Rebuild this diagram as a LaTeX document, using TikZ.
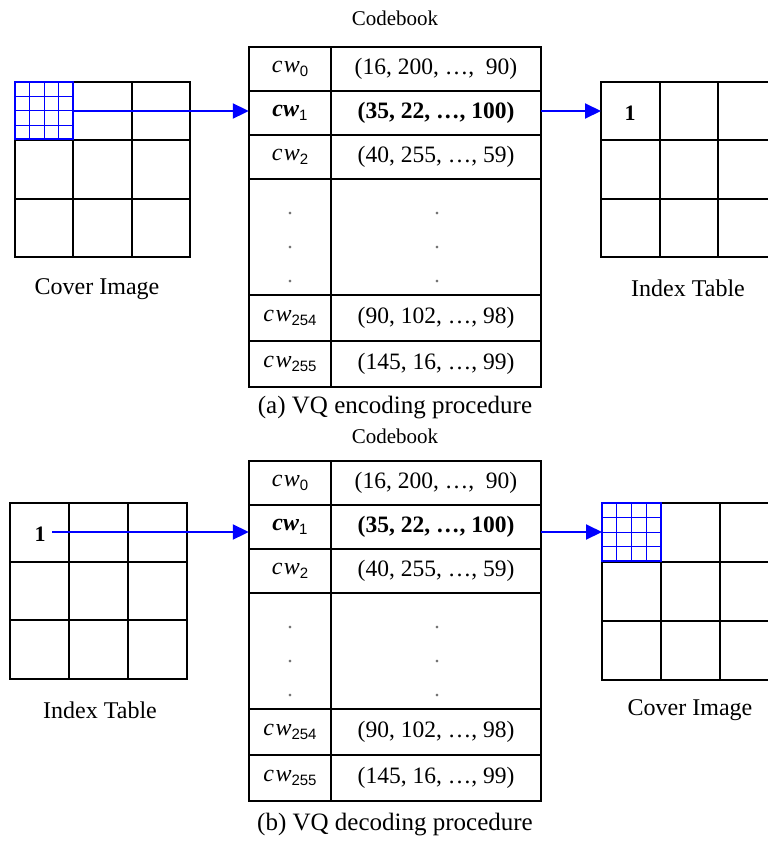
\documentclass[tikz,border=0pt]{standalone}
\usepackage{fontspec}
\setmainfont{Liberation Serif}
\newfontfamily\subfont{Liberation Sans}
\usetikzlibrary{arrows.meta}

\newcommand\cwlab[1]{\textit{c\kern1.5pt w}\raisebox{-4.5pt}{\subfont\fontsize{15}{15}\selectfont #1}}
\newcommand\cwbold[1]{\textbf{\textit{cw}}\raisebox{-4.5pt}{\subfont\fontsize{15}{15}\selectfont #1}}

\tikzset{
  gridline/.style={line width=2pt, black, line cap=rect},
  tblouter/.style={line width=1.4pt, black},
  tblrow/.style={line width=2.2pt, black},
  tblcol/.style={line width=2.8pt, black},
  bluefine/.style={blue, line width=0.9pt},
  blueout/.style={blue, line width=1.8pt},
  flow/.style={blue, line width=2pt, -{Triangle[length=16pt,width=15pt]}},
  lbl/.style={font=\fontsize{24}{28}\selectfont, inner sep=0pt},
  cblbl/.style={font=\fontsize{21}{24}\selectfont, inner sep=0pt},
  caplbl/.style={font=\fontsize{25}{28}\selectfont, inner sep=0pt},
  kcell/.style={minimum width=82pt, minimum height=44pt, inner sep=0pt, font=\fontsize{24}{28}\selectfont},
  vcell/.style={minimum width=210pt, minimum height=44pt, inner sep=0pt, font=\fontsize{23.5}{28}\selectfont},
  onebox/.style={font=\fontsize{22}{26}\selectfont\bfseries, inner sep=0pt},
  dotmark/.style={font=\fontsize{22}{26}\selectfont, inner sep=0pt, anchor=base, text=black!55},
}

% #1 name prefix, #2 vertical offset of table top
\newcommand\cbtable[2]{%
\begin{scope}[shift={(0,#2)}]
  \draw[tblrow] (249,44) -- (541,44);
  \draw[tblrow] (249,88) -- (541,88);
  \draw[tblrow] (249,132) -- (541,132);
  \draw[tblrow] (249,248) -- (541,248);
  \draw[tblrow] (249,294) -- (541,294);
  \draw[tblouter] (249,0) rectangle (541,340);
  \draw[tblcol] (331,0) -- (331,340);
  \node[kcell] (#1k0) at (290,22) {\cwlab{0}};
  \node[vcell] (#1v0) at (436,22) {(16, 200, …,\ \ 90)};
  \node[kcell] (#1k1) at (290,66) {\cwbold{1}};
  \node[vcell] (#1v1) at (436,66) {\textbf{(35, 22, …, 100)}};
  \node[kcell] (#1k2) at (290,110) {\cwlab{2}};
  \node[vcell] (#1v2) at (436,110) {(40, 255, …, 59)};
  \node[dotmark] (#1da) at (290,167) {.};
  \node[dotmark] (#1db) at (290,201) {.};
  \node[dotmark] (#1dc) at (290,235) {.};
  \node[dotmark] (#1ea) at (437,167) {.};
  \node[dotmark] (#1eb) at (437,201) {.};
  \node[dotmark] (#1ec) at (437,235) {.};
  \node[kcell] (#1k254) at (290,271) {\cwlab{254}};
  \node[vcell] (#1v254) at (436,271) {(90, 102, …, 98)};
  \node[kcell] (#1k255) at (290,317) {\cwlab{255}};
  \node[vcell] (#1v255) at (436,317) {(145, 16, …, 99)};
\end{scope}}

% 3x3 grid: #1 x0, #2 y0, #3 cell w, #4 cell h
\newcommand\threegrid[4]{%
  \draw[gridline] (#1,#2) rectangle ({#1+3*#3},{#2+3*#4});
  \draw[gridline] ({#1+#3},#2) -- ({#1+#3},{#2+3*#4});
  \draw[gridline] ({#1+2*#3},#2) -- ({#1+2*#3},{#2+3*#4});
  \draw[gridline] (#1,{#2+#4}) -- ({#1+3*#3},{#2+#4});
  \draw[gridline] (#1,{#2+2*#4}) -- ({#1+3*#3},{#2+2*#4});
}

% blue 4x4 subgrid in a cell: #1 x0, #2 y0, #3 w, #4 h
\newcommand\bluecell[4]{%
  \foreach \i in {1,2,3}{
    \draw[bluefine] ({#1+\i*#3/4},#2) -- ({#1+\i*#3/4},{#2+#4});
    \draw[bluefine] (#1,{#2+\i*#4/4}) -- ({#1+#3},{#2+\i*#4/4});
  }
  \draw[blueout] (#1,#2) rectangle ({#1+#3},{#2+#4});
}

\begin{document}
\begin{tikzpicture}[x=1pt,y=-1pt]
\clip (0,0) rectangle (768,841);
\fill[white] (0,0) rectangle (768,841);

% ---------------- (a) encoding ----------------
\node[cblbl] (cbA) at (395,18) {Codebook};
\cbtable{a}{47}

\threegrid{15}{82}{58.33}{58.33}
\bluecell{15}{82}{58.33}{57.33}
\node[lbl] (coverA) at (97,289) {Cover Image};

\threegrid{601}{82}{58.7}{58.33}
\node[onebox] (oneA) at (630,113) {1};
\node[lbl] (indexA) at (688,288) {Index Table};

\coordinate (blkA) at (73.3,111);
\coordinate (idxA) at (601,111);
\draw[flow] (blkA) -- (blkA -| ak1.west);
\draw[flow] (av1.east |- idxA) -- (idxA);

\node[caplbl] (capA) at (395,408) {(a) VQ encoding procedure};

% ---------------- (b) decoding ----------------
\node[cblbl] (cbB) at (395,436) {Codebook};
\cbtable{b}{461}

\threegrid{10}{503}{59}{58.5}
\node[onebox] (oneB) at (40,534) {1};
\node[lbl] (indexB) at (100,710) {Index Table};

\threegrid{602}{503}{59}{59}
\bluecell{602}{503}{59}{58}
\node[lbl] (coverB) at (690,710) {Cover Image};

\coordinate (srcB) at (52,532);
\coordinate (dstB) at (602,532);
\draw[flow] (srcB) -- (srcB -| bk1.west);
\draw[flow] (bv1.east |- dstB) -- (dstB);

\node[caplbl] (capB) at (395,825) {(b) VQ decoding procedure};
\end{tikzpicture}
\end{document}
